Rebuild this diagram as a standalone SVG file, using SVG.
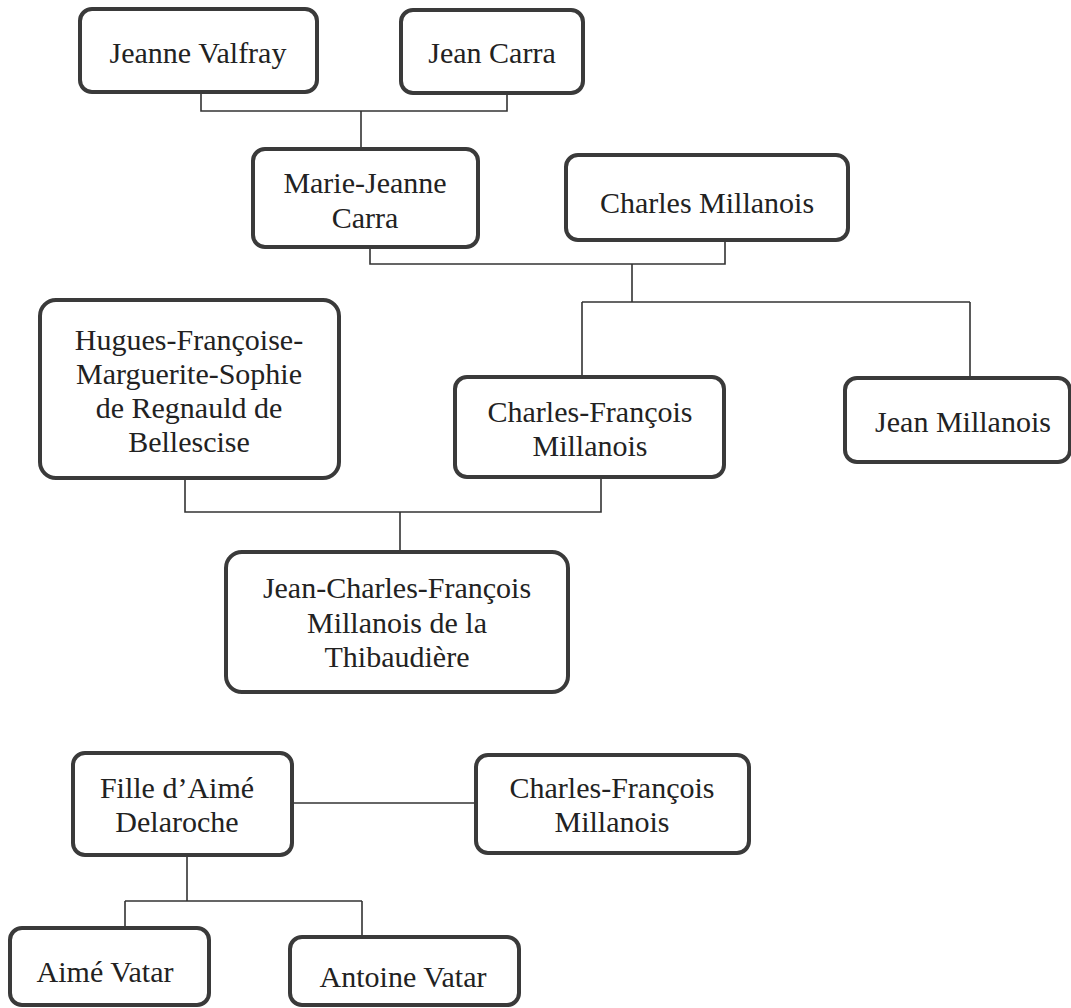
<svg xmlns="http://www.w3.org/2000/svg" width="1071" height="1008" viewBox="0 0 1071 1008">
<style>
.box{fill:#ffffff;stroke:#3a3a3a;stroke-width:4}
.t{font-family:"Liberation Serif","Times New Roman",serif;font-size:30px;fill:#222222;text-anchor:middle}
.c{fill:none;stroke:#333333;stroke-width:1.6}
</style>
<rect width="1071" height="1008" fill="#ffffff"/>
<g id="connectors">
<path class="c" d="M201 92 V111 H507 V93 M361 111 V149"/>
<path class="c" d="M370 247 V264 H725 V240 M632 264 V302 M582 302 H970 M582 302 V377 M970 302 V378"/>
<path class="c" d="M185 478 V512 H601 V477 M400 512 V552"/>
<path class="c" d="M292 803 H476"/>
<path class="c" d="M187 855 V901 M125 901 H362 M125 901 V928 M362 901 V937"/>
</g>
<g id="jeanne-valfray">
<rect class="box" x="80" y="9" width="237" height="83" rx="12"/>
<text class="t" x="198" y="63">Jeanne Valfray</text>
</g>
<g id="jean-carra">
<rect class="box" x="401" y="10" width="182" height="83" rx="12"/>
<text class="t" x="492" y="63">Jean Carra</text>
</g>
<g id="marie-jeanne-carra">
<rect class="box" x="253" y="149" width="225" height="98" rx="12"/>
<text class="t" x="365" y="193">Marie-Jeanne</text>
<text class="t" x="365" y="228">Carra</text>
</g>
<g id="charles-millanois">
<rect class="box" x="566" y="155" width="282" height="85" rx="12"/>
<text class="t" x="707" y="213">Charles Millanois</text>
</g>
<g id="hugues">
<rect class="box" x="40" y="300" width="299" height="178" rx="16"/>
<text class="t" x="189" y="350">Hugues-Françoise-</text>
<text class="t" x="189" y="384">Marguerite-Sophie</text>
<text class="t" x="189" y="418">de Regnauld de</text>
<text class="t" x="189" y="452">Bellescise</text>
</g>
<g id="charles-francois-millanois-1">
<rect class="box" x="455" y="377" width="269" height="100" rx="12"/>
<text class="t" x="590" y="422">Charles-François</text>
<text class="t" x="590" y="456">Millanois</text>
</g>
<g id="jean-millanois">
<rect class="box" x="845" y="378" width="225" height="84" rx="12"/>
<text class="t" x="963" y="432">Jean Millanois</text>
</g>
<g id="jean-charles-francois">
<rect class="box" x="226" y="552" width="342" height="140" rx="16"/>
<text class="t" x="397" y="598">Jean-Charles-François</text>
<text class="t" x="397" y="633">Millanois de la</text>
<text class="t" x="397" y="667">Thibaudière</text>
</g>
<g id="fille-aime-delaroche">
<rect class="box" x="73" y="753" width="219" height="102" rx="12"/>
<text class="t" x="177" y="798">Fille d’Aimé</text>
<text class="t" x="177" y="832">Delaroche</text>
</g>
<g id="charles-francois-millanois-2">
<rect class="box" x="476" y="755" width="273" height="98" rx="12"/>
<text class="t" x="612" y="798">Charles-François</text>
<text class="t" x="612" y="832">Millanois</text>
</g>
<g id="aime-vatar">
<rect class="box" x="10" y="928" width="199" height="77" rx="12"/>
<text class="t" x="105" y="982">Aimé Vatar</text>
</g>
<g id="antoine-vatar">
<rect class="box" x="290" y="937" width="229" height="68" rx="12"/>
<text class="t" x="403" y="987">Antoine Vatar</text>
</g>
</svg>
